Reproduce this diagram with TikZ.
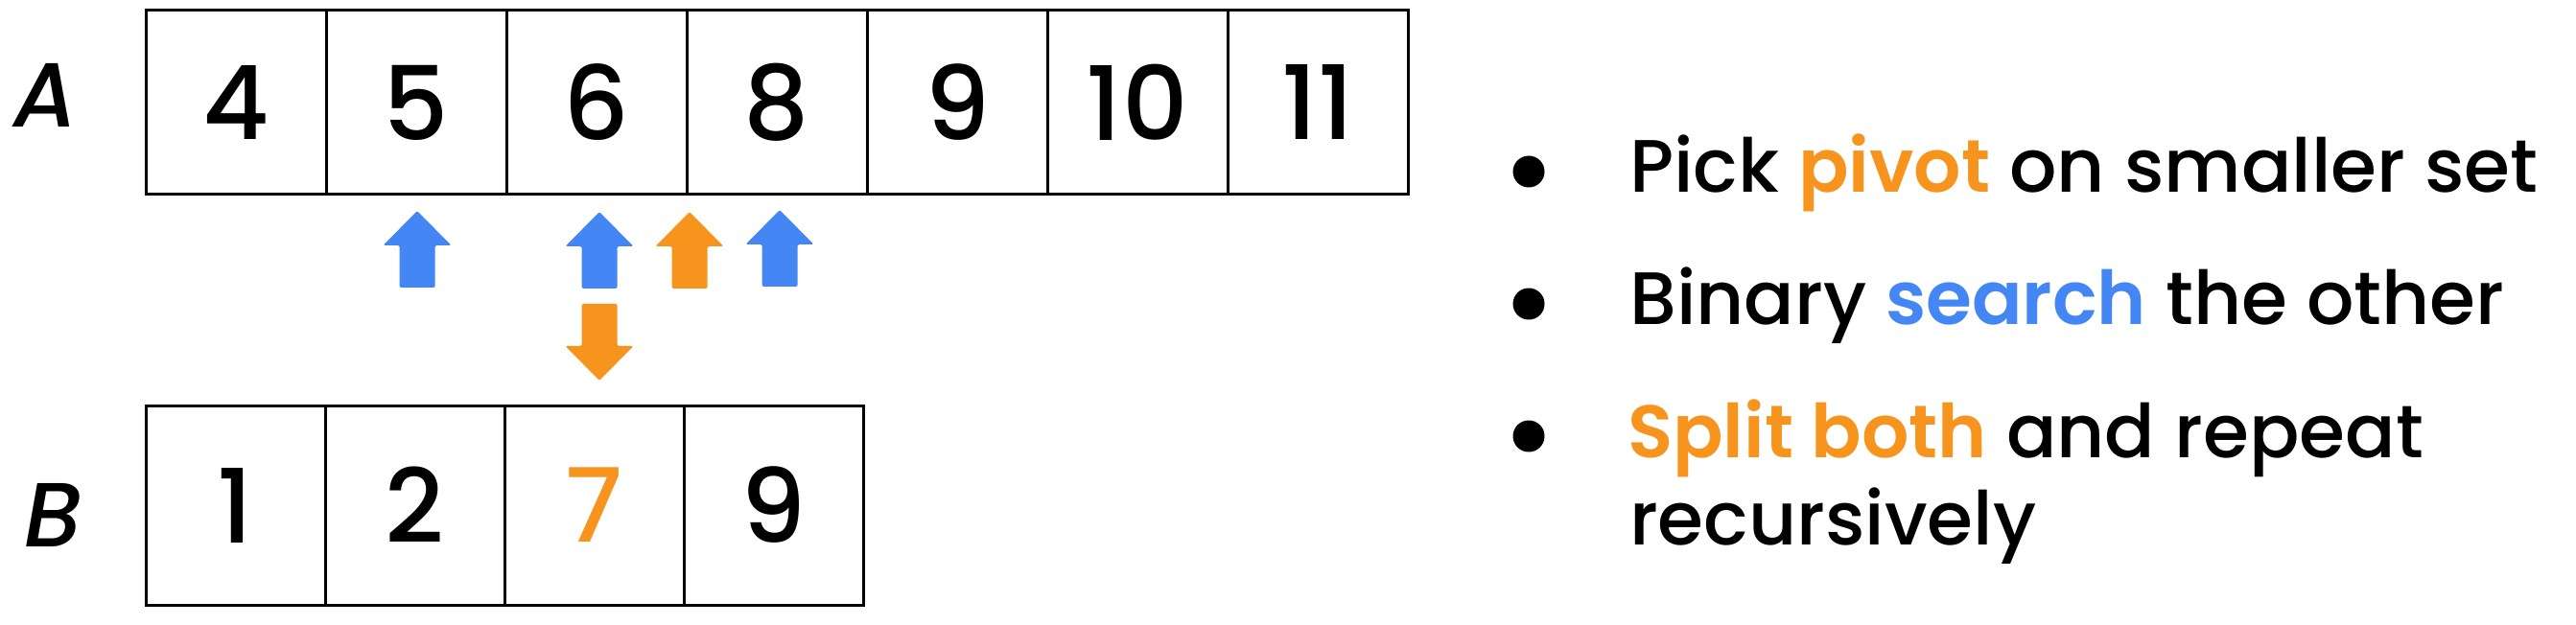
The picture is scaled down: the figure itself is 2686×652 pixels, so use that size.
\documentclass[tikz,border=0pt]{standalone}
\usepackage{fontspec}
\setmainfont{Poppins}[UprightFont=* Medium, BoldFont=* SemiBold, ItalicFont=* Medium Italic, BoldItalicFont=* SemiBold Italic]
\definecolor{porange}{HTML}{F7941D}
\definecolor{pblue}{HTML}{4487F4}
\tikzset{
  cellA/.style={draw=black, line width=3pt, minimum width=188pt, minimum height=192pt, inner sep=0pt, font=\fontsize{107}{110}\selectfont},
  cellB/.style={draw=black, line width=3pt, minimum width=187pt, minimum height=208pt, inner sep=0pt, font=\fontsize{107}{110}\selectfont},
  rowlabel/.style={inner sep=0pt, font=\fontsize{95}{100}\selectfont\itshape},
  bullettext/.style={anchor=base west, inner sep=0pt, font=\fontsize{77.5}{91}\selectfont},
  dot/.style={circle, fill=black, minimum size=33pt, inner sep=0pt},
  arrowshape/.style={rounded corners=1.5pt}
}
\newcommand{\uparr}[3]{% x, tip y, color
  \fill[#3, arrowshape] (#1,#2) -- (#1+35.5,#2+36) -- (#1+18.5,#2+36) -- (#1+18.5,#2+80) -- (#1-18.5,#2+80) -- (#1-18.5,#2+36) -- (#1-35.5,#2+36) -- cycle;}
\newcommand{\downarr}[3]{% x, top y, color
  \fill[#3, arrowshape] (#1,#2+80) -- (#1+35.5,#2+44) -- (#1+18.5,#2+44) -- (#1+18.5,#2) -- (#1-18.5,#2) -- (#1-18.5,#2+44) -- (#1-35.5,#2+44) -- cycle;}
\begin{document}
\begin{tikzpicture}[x=1pt,y=-1pt]
\useasboundingbox (0,0) rectangle (2686,652);
% labels
\node[rowlabel] (labA) at (48,99) {A};
\node[rowlabel] (labB) at (55,537) {B};
% row A
\foreach \v [count=\i from 0] in {4,5,6,8,9,10,11}
  \node[cellA] (a\i) at (246+188*\i,107) {\v};
% row B
\node[cellB] (b0) at (245.5,527) {1};
\node[cellB] (b1) at (432.5,527) {2};
\node[cellB, text=porange] (b2) at (619.5,527) {7};
\node[cellB] (b3) at (806.5,527) {9};
% arrows
\uparr{435}{220}{pblue}
\uparr{625}{221}{pblue}
\uparr{719}{221}{porange}
\uparr{813}{219}{pblue}
\downarr{625}{317}{porange}
% bullets
\node[dot] (d1) at (1594,179) {};
\node[dot] (d2) at (1594,317) {};
\node[dot] (d3) at (1594,455) {};
\node[bullettext] (t1) at (1699,201) {Pick \textcolor{porange}{\bfseries pivot} on smaller set};
\node[bullettext] (t2) at (1699,339) {Binary \textcolor{pblue}{\bfseries search} the other};
\node[bullettext] (t3) at (1697,477) {\textcolor{porange}{\bfseries Split both} and repeat};
\node[bullettext] (t4) at (1699,568) {recursively};
\end{tikzpicture}
\end{document}
